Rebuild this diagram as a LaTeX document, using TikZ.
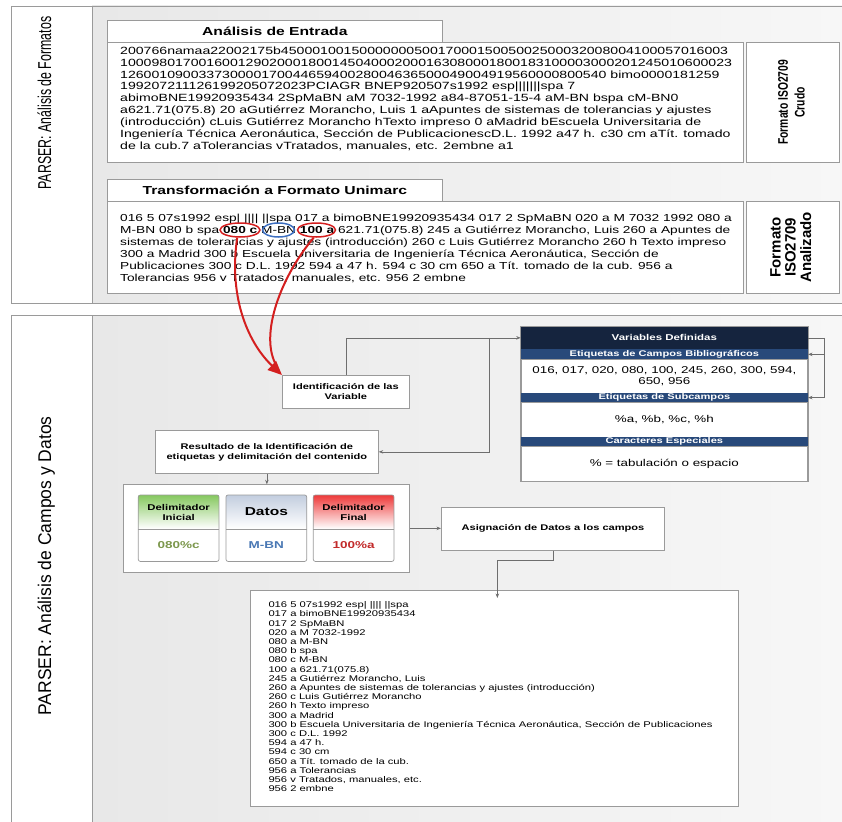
\documentclass[tikz,border=0pt]{standalone}
\usepackage{graphicx}
\usepackage{fontspec}
\setmainfont{Liberation Sans}[FakeStretch=1.35]
\newfontfamily\narrowsans{Liberation Sans}
\usetikzlibrary{arrows.meta,shapes.geometric,calc}
\definecolor{panelL}{HTML}{E8E8E8}
\definecolor{panelR}{HTML}{F7F7F7}
\definecolor{edge}{HTML}{9A9A9A}
\definecolor{wire}{HTML}{6E6E6E}
\definecolor{navy}{HTML}{15243E}
\definecolor{barblue}{HTML}{28497A}
\definecolor{mark}{HTML}{D41F1F}
\definecolor{markblue}{HTML}{3C6EC0}
\definecolor{grn}{HTML}{86C860}
\definecolor{rd}{HTML}{EE3B3B}
\definecolor{bluegray}{HTML}{C3CEDF}
\definecolor{valgreen}{HTML}{7C974C}
\definecolor{valblue}{HTML}{4A78B4}
\definecolor{valred}{HTML}{C22A2A}
% vertical text, thickened across its run
\newcommand{\vtext}[3]{\rotatebox{90}{\scalebox{1}[#1]{#2\begin{tabular}{@{}c@{}}#3\end{tabular}}}}
\begin{document}
\begin{tikzpicture}[x=1pt,y=-1pt,
  panel/.style={draw=edge, line width=0.7pt, left color=panelL, right color=panelR},
  labelbox/.style={draw=edge, line width=0.7pt, fill=white},
  box/.style={draw=edge, fill=white, line width=0.7pt, inner sep=0pt, anchor=north west},
  tabtitle/.style={box, font=\bfseries\fontsize{11.6}{14}\selectfont},
  body/.style={anchor=north west, inner sep=0pt, align=left, font=\fontsize{10.45}{11.9}\selectfont},
  listing/.style={anchor=north west, inner sep=0pt, align=left, font=\fontsize{8.3}{9.2}\selectfont},
  small/.style={font=\bfseries\fontsize{8.2}{10}\selectfont, align=center},
  bar/.style={box, fill=barblue, draw=barblue, text=white, minimum width=286.6pt, font=\bfseries\fontsize{8.2}{9}\selectfont},
  cell/.style={box, minimum width=286.6pt, align=center, font=\fontsize{9.9}{11.5}\selectfont},
  cardhead/.style={box, draw=none, minimum width=80pt, minimum height=33.3pt, bottom color=white, align=center, font=\bfseries\fontsize{8.4}{10}\selectfont},
  cardval/.style={box, draw=none, minimum width=80pt, minimum height=32.4pt, font=\bfseries\fontsize{10}{12}\selectfont},
  circ/.style={ellipse, draw=mark, line width=1.5pt, inner sep=0pt, minimum height=14pt},
  redarrow/.style={draw=mark, line width=2pt, -{Triangle[length=14pt,width=12pt]}},
  redline/.style={draw=mark, line width=2pt},
  conn/.style={draw=wire, line width=0.7pt, -{Stealth[length=4.5pt,width=3.5pt]}},
  wireline/.style={draw=wire, line width=0.7pt}]
\useasboundingbox (0,0) rectangle (842,821);
\fill[white] (0,0) rectangle (842,821);

% ---------- section frames ----------
\draw[panel] (92,6) rectangle (846,303);
\draw[labelbox] (11,6) rectangle (92,303);
\node (lbltop) at (47,103) {\vtext{1.5}{\narrowsans\fontsize{12.4}{14}\selectfont}{PARSER: Análisis de Formatos}};

\draw[panel] (92,315) rectangle (846,826);
\draw[labelbox] (11,315) rectangle (92,826);
\node (lblbot) at (47,566) {\vtext{1.05}{\narrowsans\fontsize{17.5}{20}\selectfont}{PARSER: Análisis de Campos y Datos}};

% ---------- raw record ----------
\node[tabtitle, minimum width=335pt, minimum height=22pt] (tab1) at (107,20) {Análisis de Entrada};
\node[box, minimum width=636pt, minimum height=120pt] (raw) at (107,42) {};
\node[body] (rawtext) at (120,46.5) {200766namaa22002175b450001001500000005001700015005002500032008004100057016003\\
100098017001600129020001800145040002000163080001800183100003000201245010600023\\
12600109003373000017004465940028004636500049004919560000800540 bimo0000181259\\
199207211126199205072023PCIAGR BNEP920507s1992 esp|||||||spa 7\\
abimoBNE19920935434 2SpMaBN aM 7032-1992 a84-87051-15-4 aM-BN bspa cM-BN0\\
a621.71(075.8) 20 aGutiérrez Morancho, Luis 1 aApuntes de sistemas de tolerancias y ajustes\\
(introducción) cLuis Gutiérrez Morancho hTexto impreso 0 aMadrid bEscuela Universitaria de\\
Ingeniería Técnica Aeronáutica, Sección de PublicacionescD.L. 1992 a47 h. c30 cm aTít. tomado\\
de la cub.7 aTolerancias vTratados, manuales, etc. 2embne a1};
\node[box, minimum width=93pt, minimum height=120pt] (crudo) at (746,42)
  {\vtext{1.35}{\narrowsans\bfseries\fontsize{10.3}{12.5}\selectfont}{Formato ISO2709\\Crudo}};

% ---------- Unimarc record ----------
\node[tabtitle, minimum width=335pt, minimum height=22pt] (tab2) at (107,179) {Transformación a Formato Unimarc};
\node[box, minimum width=636pt, minimum height=92pt] (unimarc) at (107,201) {};
\node[body, font=\fontsize{10.15}{11.9}\selectfont] (unitext) at (120,214) {016 5 07s1992 esp| |||| ||spa 017 a bimoBNE19920935434 017 2 SpMaBN 020 a M 7032 1992 080 a\\
M-BN 080 b spa \textbf{080 c} M-BN \textbf{100 a} 621.71(075.8) 245 a Gutiérrez Morancho, Luis 260 a Apuntes de\\
sistemas de tolerancias y ajustes (introducción) 260 c Luis Gutiérrez Morancho 260 h Texto impreso\\
300 a Madrid 300 b Escuela Universitaria de Ingeniería Técnica Aeronáutica, Sección de\\
Publicaciones 300 c D.L. 1992 594 a 47 h. 594 c 30 cm 650 a Tít. tomado de la cub. 956 a\\
Tolerancias 956 v Tratados, manuales, etc. 956 2 embne};
\node[box, minimum width=93pt, minimum height=92pt] (analiz) at (746,201)
  {\vtext{1.0}{\narrowsans\bfseries\fontsize{15}{15}\selectfont}{Formato\\ISO2709\\Analizado}};

% highlighted delimiters and data
\node[circ, minimum width=40pt] (c080) at (240,230) {};
\node[circ, draw=markblue, minimum width=32pt] (cmbn) at (278.5,230) {};
\node[circ, minimum width=38pt] (c100) at (316.5,230) {};

% ---------- identification ----------
\node[box, small, minimum width=127pt, minimum height=33pt] (ident) at (282,375) {Identificación de las\\Variable};
\node[box, small, minimum width=223pt, minimum height=43pt] (result) at (155,430) {Resultado de la Identificación de\\etiquetas y delimitación del contenido};

% defined variables table
\node[box, fill=navy, draw=navy, text=white, minimum width=286.6pt, minimum height=23pt,
      font=\bfseries\fontsize{8.5}{10}\selectfont] (vhead) at (520.7,326) {Variables Definidas};
\node[bar, minimum height=10pt] (bar1) at (520.7,349) {Etiquetas de Campos Bibliográficos};
\node[cell, minimum height=33.5pt] (fields) at (520.7,359) {016, 017, 020, 080, 100, 245, 260, 300, 594,\\650, 956};
\node[bar, minimum height=9.5pt] (bar2) at (520.7,392.5) {Etiquetas de Subcampos};
\node[cell, minimum height=34.5pt] (subs) at (520.7,402) {\%a, \%b, \%c, \%h};
\node[bar, minimum height=9.5pt] (bar3) at (520.7,436.5) {Caracteres Especiales};
\node[cell, minimum height=35pt] (spec) at (520.7,446) {\% = tabulación o espacio};
\draw[edge, line width=0.7pt] (vhead.north west) rectangle (spec.south east);

% ---------- delimiter cards ----------
\node[box, minimum width=286.6pt, minimum height=87.4pt] (grp) at (122.7,484.3) {};
\node[cardhead, top color=grn] (h1) at (138.3,495) {Delimitador\\Inicial};
\node[cardval, text=valgreen] (v1) at (138.3,528.3) {080\%c};
\node[cardhead, top color=bluegray, font=\bfseries\fontsize{11.5}{13}\selectfont] (h2) at (226,495) {Datos};
\node[cardval, text=valblue] (v2) at (226,528.3) {M-BN};
\node[cardhead, top color=rd] (h3) at (313.3,495) {Delimitador\\Final};
\node[cardval, text=valred] (v3) at (313.3,528.3) {100\%a};
\foreach \c in {1,2,3}{
  \draw[edge, line width=0.7pt, rounded corners=2pt] (h\c.north west) rectangle (v\c.south east);
  \draw[edge, line width=0.7pt] (h\c.south west) -- (h\c.south east);
}

\node[box, small, minimum width=223.3pt, minimum height=43.3pt] (asig) at (441,506.7) {Asignación de Datos a los campos};

% ---------- resulting fields ----------
\node[box, minimum width=488pt, minimum height=216pt] (out) at (250,590) {};
\node[listing] (outtext) at (268.3,601.5) {016 5 07s1992 esp| |||| ||spa\\
017 a bimoBNE19920935434\\
017 2 SpMaBN\\
020 a M 7032-1992\\
080 a M-BN\\
080 b spa\\
080 c M-BN\\
100 a 621.71(075.8)\\
245 a Gutiérrez Morancho, Luis\\
260 a Apuntes de sistemas de tolerancias y ajustes (introducción)\\
260 c Luis Gutiérrez Morancho\\
260 h Texto impreso\\
300 a Madrid\\
300 b Escuela Universitaria de Ingeniería Técnica Aeronáutica, Sección de Publicaciones\\
300 c D.L. 1992\\
594 a 47 h.\\
594 c 30 cm\\
650 a Tít. tomado de la cub.\\
956 a Tolerancias\\
956 v Tratados, manuales, etc.\\
956 2 embne};

% ---------- connectors ----------
\draw[redline, shorten >=10pt] (c100.250) .. controls (282,275) and (258,335) .. (ident.north west);
\draw[redarrow] (c080.250) .. controls (228,300) and (250,345) .. (ident.north west);

\coordinate (split) at ($(vhead.west)+(-31.7,0)$);
\draw[conn] (ident.north) |- (vhead.west);
\draw[conn] (split) |- (result.east);

\coordinate (loopc) at ($(vhead.east)+(16,0)$);
\draw[wireline] (vhead.east) -- (loopc);
\draw[conn] (loopc) |- (bar2.east);
\draw[conn] (loopc |- bar1.east) -- (bar1.east);

\draw[conn] (result.south) -- (result.south |- grp.north);
\draw[conn] (grp.east) -- (grp.east -| asig.west);
\draw[conn, shorten >=-8pt] (asig.south) -- ++(0,10) -| ([xshift=3pt]out.north);
\end{tikzpicture}
\end{document}
